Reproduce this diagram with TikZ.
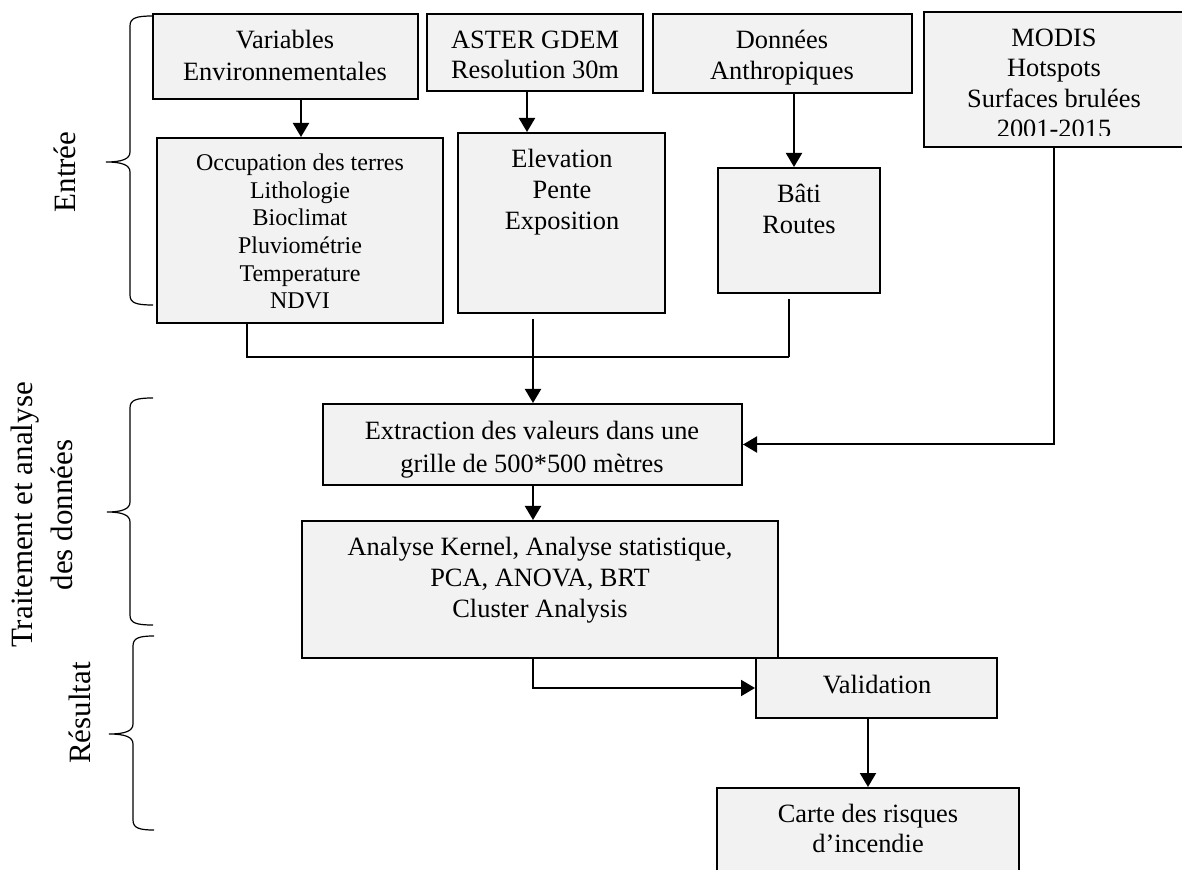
\documentclass[tikz,border=0pt]{standalone}
\usepackage{fontspec}
\setmainfont{Liberation Serif}
\usetikzlibrary{arrows.meta}
\definecolor{boxgray}{HTML}{F2F2F2}
\newcommand\mybrace[6]{%
\draw[brc] (#5,#1) .. controls ({#4+6},#1) and (#4,{#1+2}) .. (#4,{#1+10}) -- (#4,{#2-10}) .. controls (#4,{#2-3}) and ({#4-8},#2) .. (#6,#2) .. controls ({#4-8},#2) and (#4,{#2+3}) .. (#4,{#2+10}) -- (#4,{#3-10}) .. controls (#4,{#3-2}) and ({#4+6},#3) .. (#5,#3);}
\begin{document}
\begin{tikzpicture}[x=0.5pt,y=-0.5pt,
 box/.style={draw, line width=1pt, fill=boxgray, inner sep=0pt},
 txt/.style={inner sep=0pt, align=center, font=\fontsize{13.2}{16}\selectfont},
 conn/.style={line width=1pt},
 arr/.style={line width=1pt, -{Triangle[length=7pt,width=8pt]}},
 brc/.style={line width=0.6pt},
 side/.style={inner sep=0pt, align=center, rotate=90, font=\fontsize{15.5}{20}\selectfont}]
\useasboundingbox (0,0) rectangle (1182,870);

% boxes
\node[box, minimum width=132.5pt, minimum height=42.5pt] (var) at (285.5,56.5) {};
\node[box, minimum width=143pt, minimum height=92.5pt] (occ) at (300,230.5) {};
\node[box, minimum width=108pt, minimum height=38.5pt] (aster) at (535,52.5) {};
\node[box, minimum width=103.5pt, minimum height=90pt] (elev) at (561.5,223) {};
\node[box, minimum width=129.5pt, minimum height=39.5pt] (donnees) at (782.5,53.5) {};
\node[box, minimum width=81pt, minimum height=62.5pt] (bati) at (799,230.5) {};
\node[box, minimum width=133pt, minimum height=67.5pt] (modis) at (1057,79.5) {};
\node[box, minimum width=209.5pt, minimum height=40.5pt] (extr) at (532.5,444.5) {};
\node[box, minimum width=238pt, minimum height=68.5pt] (anal) at (540,589.5) {};
\node[box, minimum width=120.5pt, minimum height=30pt] (valid) at (876.5,688) {};
\node[box, minimum width=151pt, minimum height=56pt] (carte) at (868,844) {};

% texts
\node[txt, anchor=north] (vart) at (285,30) {Variables\\Environnementales};
\node[txt, anchor=north, font=\fontsize{12}{13.8}\selectfont] (occt) at (300,153.7) {Occupation des terres\\Lithologie\\Bioclimat\\Pluviométrie\\Temperature\\NDVI};
\node[txt, anchor=north, font=\fontsize{13.2}{15}\selectfont] (astert) at (535,30.5) {ASTER GDEM\\Resolution 30m};
\node[txt, anchor=north, font=\fontsize{13.2}{15.5}\selectfont] (elevt) at (562,149) {Elevation\\Pente\\Exposition};
\node[txt, anchor=north, font=\fontsize{13.2}{15.5}\selectfont] (donneest) at (782,30) {Données\\Anthropiques};
\node[txt, anchor=north, font=\fontsize{13.2}{15.5}\selectfont] (batit) at (799,184) {Bâti\\Routes};
\begin{scope}
\clip (924,12) rectangle (1182,136);
\node[txt, anchor=north, font=\fontsize{13.2}{15.25}\selectfont] (modist) at (1054,28.5) {MODIS\\Hotspots\\Surfaces brulées\\2001-2015};
\end{scope}
\node[txt, anchor=north, font=\fontsize{13.2}{16.5}\selectfont] (extrt) at (532,421) {Extraction des valeurs dans une\\grille de 500*500 mètres};
\node[txt, anchor=north, font=\fontsize{13.2}{15.5}\selectfont] (analt) at (540,537) {Analyse Kernel, Analyse statistique,\\PCA, ANOVA, BRT\\Cluster Analysis};
\node[txt, anchor=base] (validt) at (877,693) {Validation};
\node[txt, anchor=north, font=\fontsize{13.2}{15}\selectfont] (cartet) at (868,804) {Carte des risques\\d’incendie};

% connectors
\coordinate (x1) at (301,0);
\coordinate (x2) at (527,0);
\coordinate (x3) at (794,0);
\coordinate (x4) at (533,0);
\coordinate (x5) at (1054,0);
\coordinate (x6) at (868,0);
\coordinate (busL) at (247,357);
\coordinate (busR) at (789,357);
\draw[arr] (var.south -| x1) -- (occ.north -| x1);
\draw[arr] (aster.south -| x2) -- (elev.north -| x2);
\draw[arr] (donnees.south -| x3) -- (bati.north -| x3);
\draw[conn] (occ.south -| busL) -- (busL) -- (busR);
\draw[conn, shorten <=2.5pt] (bati.south -| busR) -- (busR);
\draw[arr, shorten <=2.5pt] (elev.south -| x4) -- (extr.north -| x4);
\draw[arr] (extr.south -| x4) -- (anal.north -| x4);
\draw[arr] (modis.south -| x5) |- (extr.east);
\draw[arr] (anal.south -| x4) |- (valid.west);
\draw[arr] (valid.south -| x6) -- (carte.north -| x6);

% braces and side labels
\mybrace{16}{162}{305}{130}{153}{106}
\mybrace{398}{512}{625}{130}{153}{107}
\mybrace{636}{734}{830}{133}{154}{109}
\node[side] (lab1) at (65,172) {Entrée};
\node[side] (lab2) at (42,515) {Traitement et analyse\\des données};
\node[side] (lab3) at (80,713) {Résultat};
\end{tikzpicture}
\end{document}
